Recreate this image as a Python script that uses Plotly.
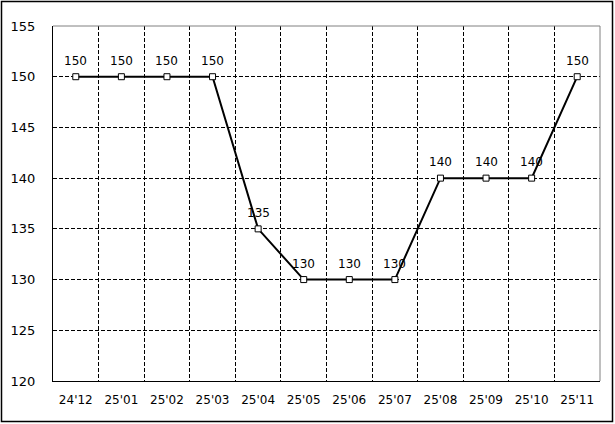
import plotly.graph_objects as go

categories = ["24'12", "25'01", "25'02", "25'03", "25'04", "25'05",
              "25'06", "25'07", "25'08", "25'09", "25'10", "25'11"]
values = [150, 150, 150, 150, 135, 130, 130, 130, 140, 140, 140, 150]
y_ticks = [120, 125, 130, 135, 140, 145, 150, 155]

W, H = 615, 424
ml, mr, mt, mb = 53, 15, 26, 43
FONT = "DejaVu Sans"

xs = list(range(len(categories)))

fig = go.Figure()
fig.add_trace(go.Scatter(
    x=xs, y=values, mode="lines+markers",
    line=dict(color="black", width=2),
    marker=dict(symbol="square", size=6, color="white",
                line=dict(color="black", width=1)),
    cliponaxis=False, showlegend=False,
))

annotations = [
    dict(x=x, y=v, text=str(v), showarrow=False, yshift=16,
         font=dict(family=FONT, size=12, color="black"))
    for x, v in zip(xs, values)
]

pw = W - ml - mr
ph = H - mt - mb

fig.update_layout(
    width=W, height=H,
    margin=dict(l=ml, r=mr, t=mt, b=mb, pad=0),
    paper_bgcolor="white", plot_bgcolor="white",
    font=dict(family=FONT, size=12, color="black"),
    annotations=annotations,
    xaxis=dict(
        range=[-0.5, len(categories) - 0.5],
        tickvals=xs, ticktext=categories,
        showgrid=False, zeroline=False, ticks="", ticklen=0,
        showline=True, linecolor="black", linewidth=1, mirror=False,
        tickfont=dict(family=FONT, size=12), ticklabelstandoff=8,
        minor=dict(tickvals=[i + 0.5 for i in xs[:-1]], showgrid=True,
                   gridcolor="black", griddash="4px,2px", gridwidth=1, ticks=""),
        fixedrange=True,
    ),
    yaxis=dict(
        range=[120, 155], tickvals=y_ticks,
        showgrid=True, gridcolor="black", griddash="4px,2px", gridwidth=1,
        zeroline=False, ticks="", showline=True, linecolor="black", linewidth=1,
        tickfont=dict(family=FONT, size=13), ticklabelstandoff=14,
        fixedrange=True,
    ),
    shapes=[
        dict(type="line", xref="paper", yref="paper", x0=0, x1=1, y0=1, y1=1,
             line=dict(color="gray", width=1), layer="above"),
        dict(type="line", xref="paper", yref="paper", x0=1, x1=1, y0=0, y1=1,
             line=dict(color="gray", width=1), layer="above"),
        dict(type="rect", xref="paper", yref="paper",
             x0=(1.5 - ml) / pw, x1=(W - 2.5 - ml) / pw,
             y0=-(mb - 2.5) / ph, y1=1 + (mt - 1.5) / ph,
             line=dict(color="black", width=1.5), layer="above"),
    ],
)

fig.write_html(
    "out.html",
    config={"displayModeBar": False, "staticPlot": True},
    post_script="document.body.style.margin='0';document.body.style.overflow='hidden';",
)
